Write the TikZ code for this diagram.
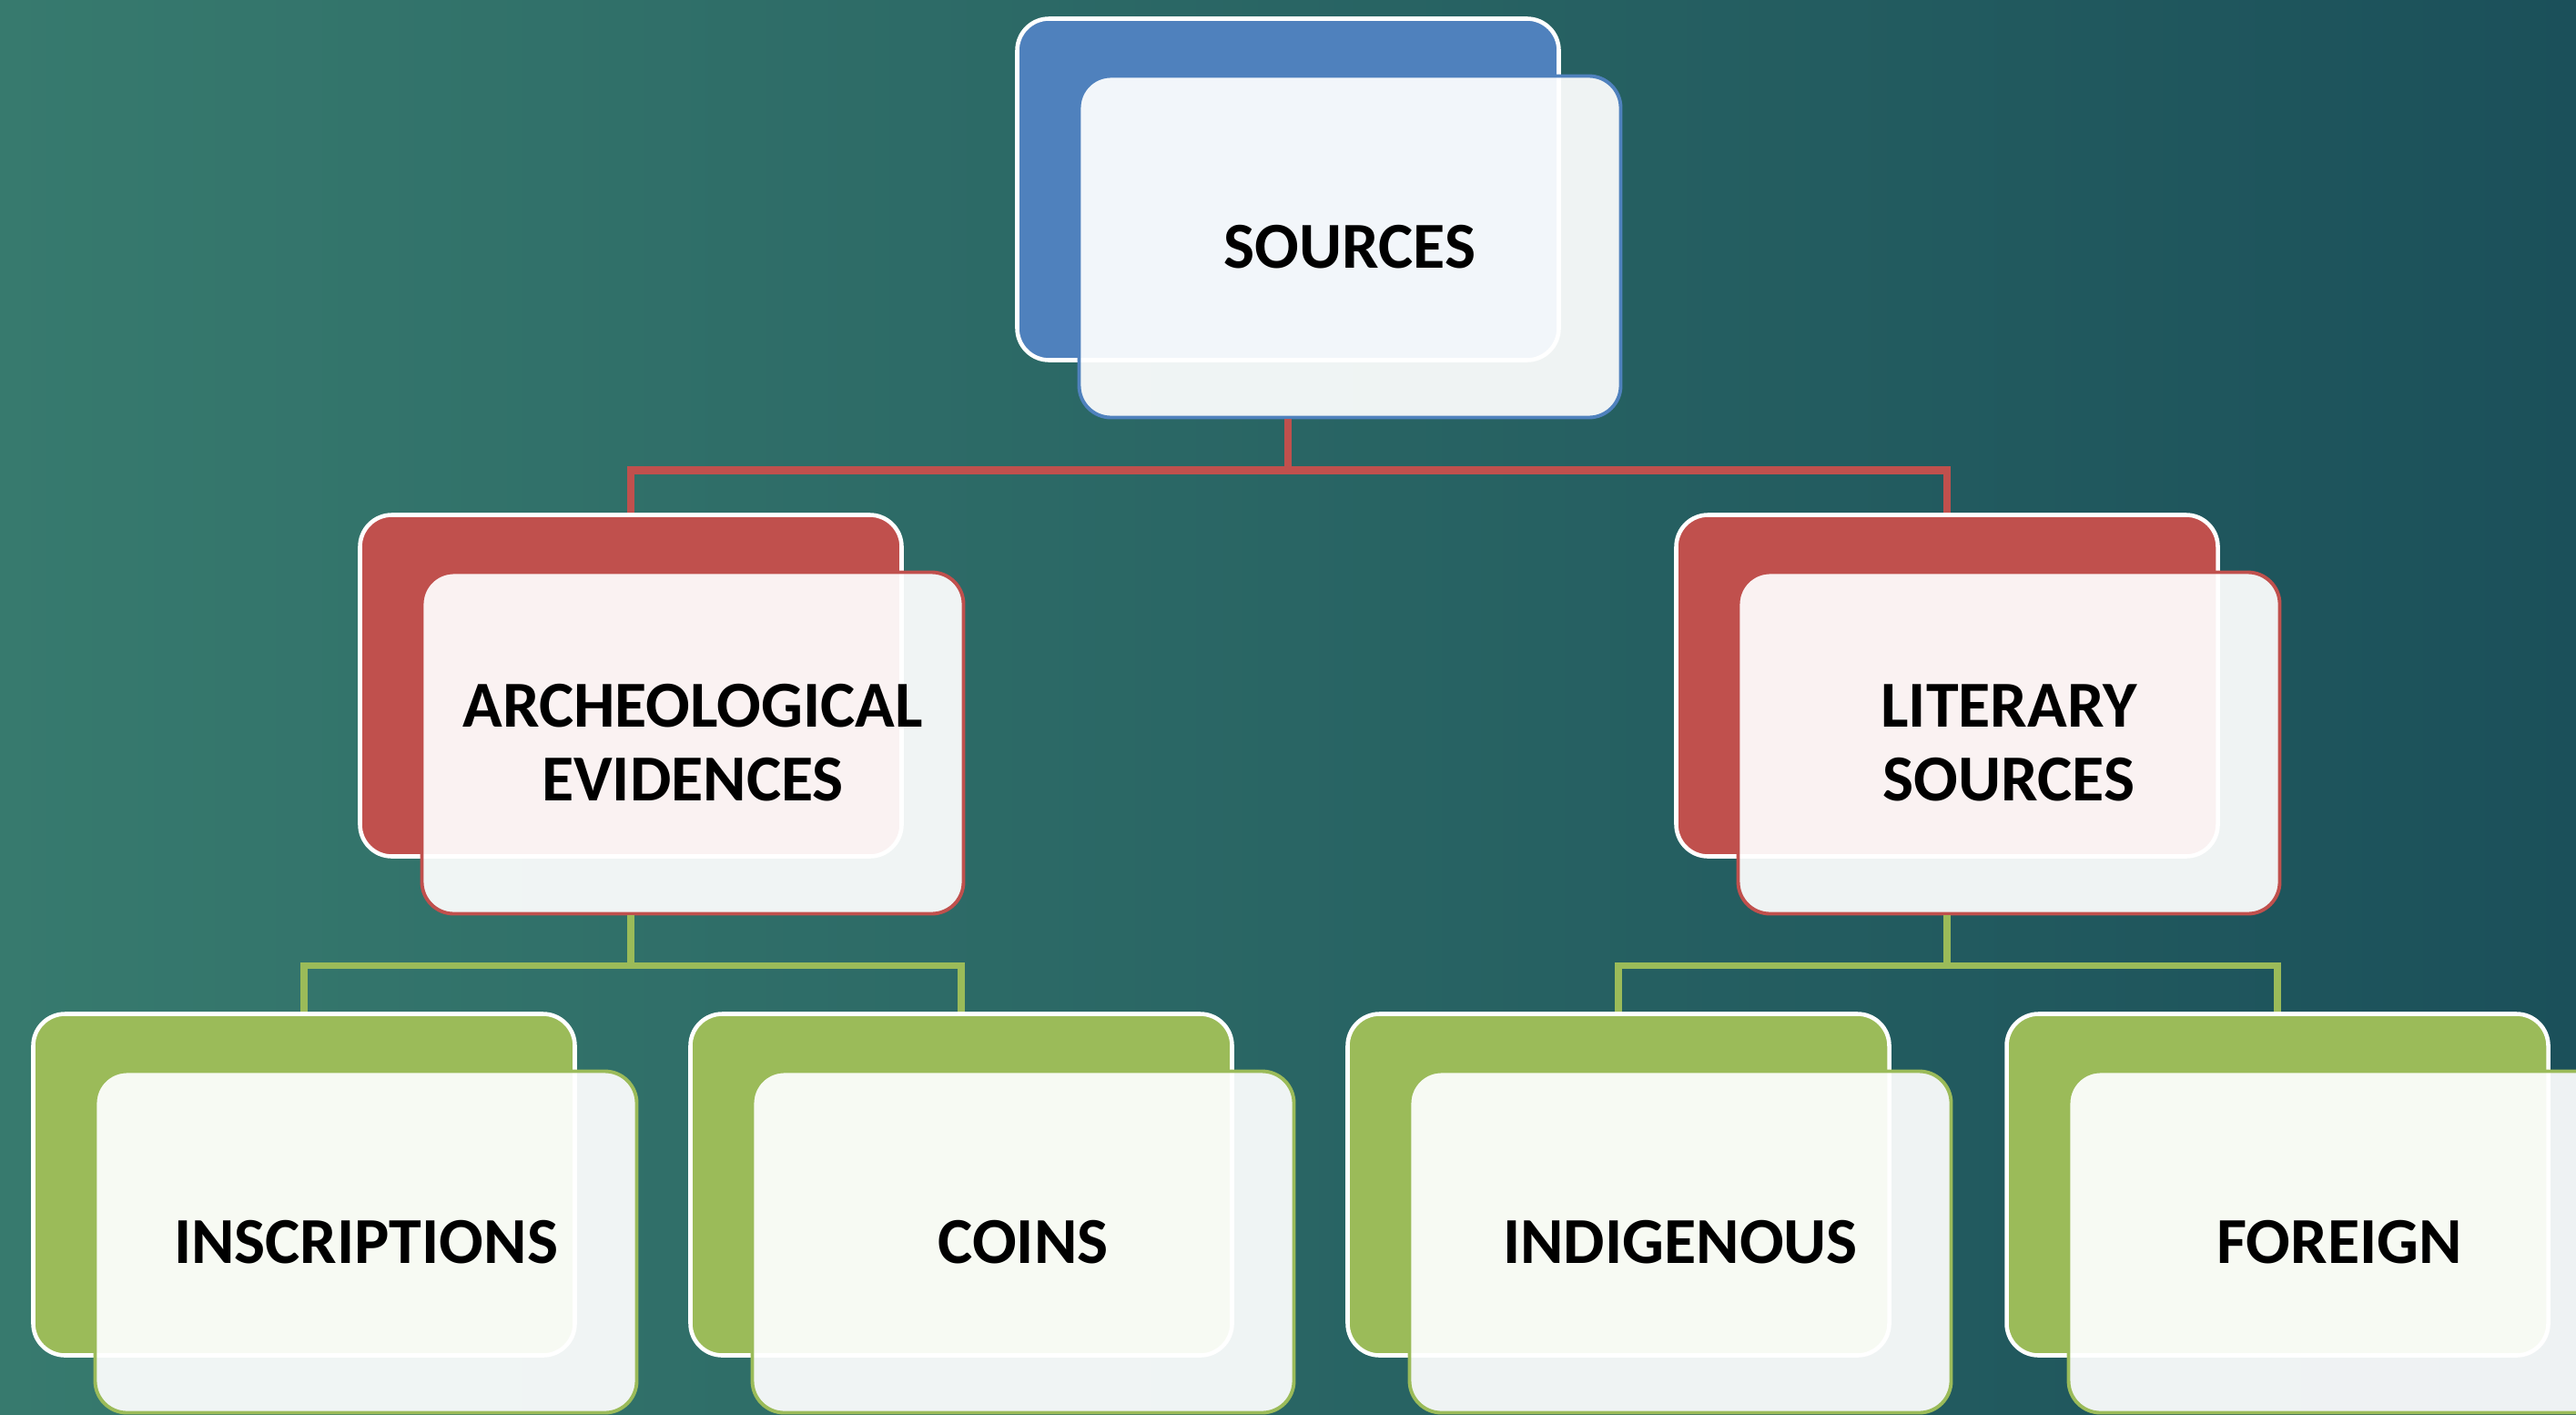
\documentclass[tikz,border=0pt]{standalone}
\usepackage{fontspec}
\setmainfont{Carlito}
\usepackage{tikz}
\usetikzlibrary{positioning}

\definecolor{bgleft}{RGB}{55,122,110}
\definecolor{bgright}{RGB}{27,80,90}
\definecolor{srcblue}{RGB}{79,129,189}
\definecolor{litred}{RGB}{192,80,77}
\definecolor{subgreen}{RGB}{155,187,89}

\begin{document}
\begin{tikzpicture}[
    back/.style={draw=white, line width=1.3pt, rounded corners=0.35cm,
        minimum width=5.95cm, minimum height=3.75cm, fill=#1},
    front/.style={draw=#1, line width=1.1pt, rounded corners=0.35cm,
        minimum width=5.95cm, minimum height=3.75cm, fill=white,
        fill opacity=0.93, text opacity=1, align=center,
        font=\fontsize{20.5}{23}\selectfont\bfseries},
    redline/.style={draw=litred, line width=2.4pt},
    greenline/.style={draw=subgreen, line width=2.2pt}
]
            \useasboundingbox (0,0) rectangle (28.3,-15.53);
            \clip (0,0) rectangle (28.3,-15.53);
            \shade[left color=bgleft, right color=bgright] (0,0) rectangle (28.3,-15.53);

            % top
            \node[back=srcblue] (srcb) at (14.15,-2.08) {};
            \node[front=srcblue] (src) at ([shift={(0.68,-0.63)}]srcb.center) {SOURCES};

            % middle row
            \node[back=litred] (arcb) at (6.93,-7.53) {};
            \node[front=litred] (arc) at ([shift={(0.68,-0.63)}]arcb.center) {ARCHEOLOGICAL\\EVIDENCES};
            \node[back=litred] (litb) at (21.39,-7.53) {};
            \node[front=litred] (lit) at ([shift={(0.68,-0.63)}]litb.center) {LITERARY\\SOURCES};

            % bottom row
            \node[back=subgreen] (insb) at (3.34,-13.01) {};
            \node[front=subgreen] (ins) at ([shift={(0.68,-0.63)}]insb.center) {INSCRIPTIONS};
            \node[back=subgreen] (coib) at (10.56,-13.01) {};
            \node[front=subgreen] (coi) at ([shift={(0.68,-0.63)}]coib.center) {COINS};
            \node[back=subgreen] (indb) at (17.78,-13.01) {};
            \node[front=subgreen] (ind) at ([shift={(0.68,-0.63)}]indb.center) {INDIGENOUS};
            \node[back=subgreen] (forb) at (25.02,-13.01) {};
            \node[front=subgreen] (for) at ([shift={(0.68,-0.63)}]forb.center) {FOREIGN};

            % connectors
            \draw[redline] (srcb.center |- src.south) -- ++(0,-0.56) coordinate (rj) -| (arcb.north);
            \draw[redline] (rj) -| (litb.north);
            \draw[greenline] (arcb.center |- arc.south) -- ++(0,-0.55) coordinate (aj) -| (insb.north);
            \draw[greenline] (aj) -| (coib.north);
            \draw[greenline] (litb.center |- lit.south) -- ++(0,-0.55) coordinate (lj) -| (indb.north);
            \draw[greenline] (lj) -| (forb.north);
\end{tikzpicture}
\end{document}
